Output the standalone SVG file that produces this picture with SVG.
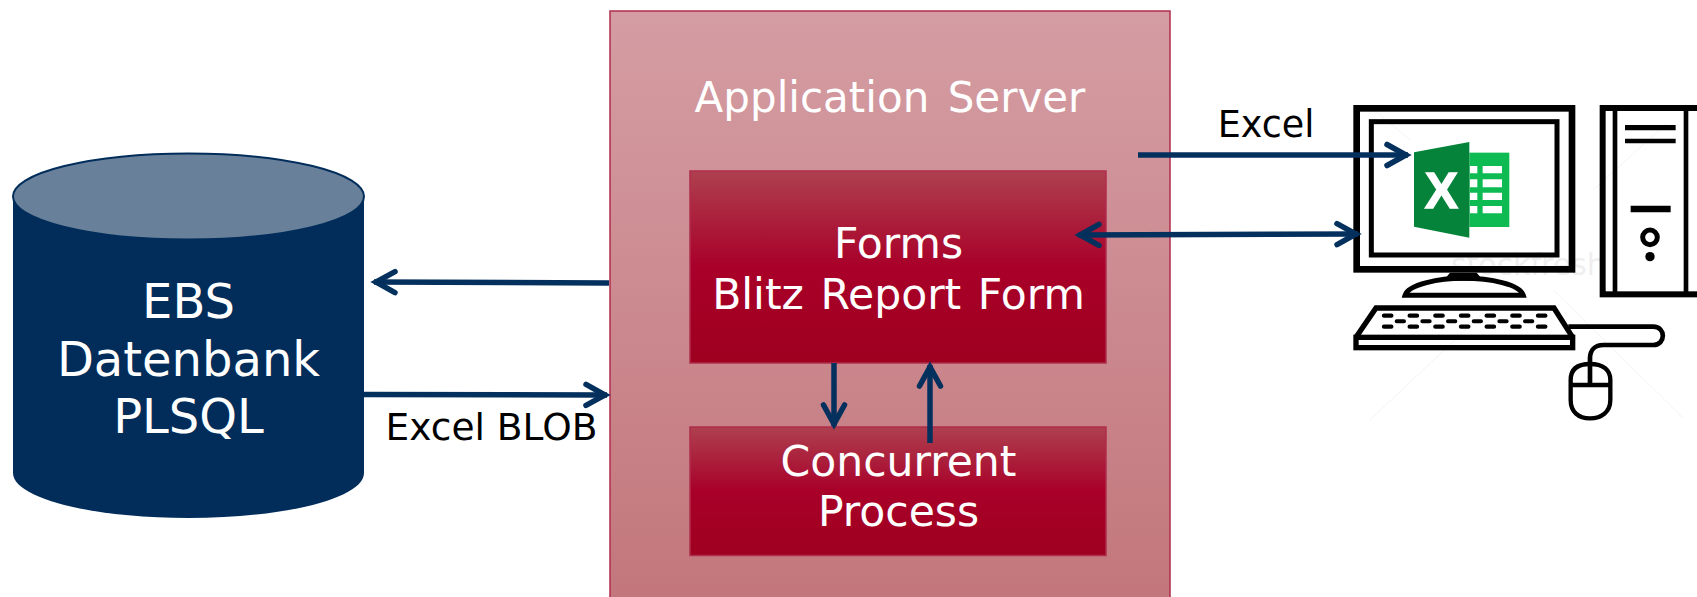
<svg xmlns="http://www.w3.org/2000/svg" width="1697" height="597" viewBox="0 0 1697 597">
<style>
.t{font-family:"DejaVu Sans",Verdana,sans-serif;text-anchor:middle;fill:#fff}
.k{fill:#000}
.c{fill:none;stroke:#04305e;stroke-width:5.500}
.b{stroke:#b02c4c;stroke-width:1.5}
.ink{fill:none;stroke:#000}
.w{fill:#fff}
</style>
<defs>
<linearGradient id="srv" x1="0" y1="0" x2="0" y2="1"><stop offset="0" stop-color="#d49da3"/><stop offset="1" stop-color="#c2767b"/></linearGradient>
<linearGradient id="red" x1="0" y1="0" x2="0" y2="1"><stop offset="0" stop-color="#ae404f"/><stop offset=".5" stop-color="#a90029"/><stop offset="1" stop-color="#9e001f"/></linearGradient>
<marker id="a" markerUnits="userSpaceOnUse" markerWidth="32" markerHeight="34" viewBox="-26 -17 32 34" refX="0" refY="0" orient="auto-start-reverse"><path d="M-21 -10.5 L-2 0 L-21 10.5" fill="none" stroke="#04305e" stroke-width="5.500" stroke-linecap="round"/></marker>
</defs>
<g id="application-server">
<rect x="610" y="11" width="560" height="600" fill="url(#srv)" class="b"/>
<text class="t" x="890" y="112" font-size="42" word-spacing="5">Application Server</text>
</g>
<g id="forms">
<rect x="690" y="171" width="416" height="192" fill="url(#red)" class="b"/>
<text class="t" x="898.500" y="258" font-size="42.500">Forms</text>
<text class="t" x="898.500" y="308.500" font-size="42.500" word-spacing="3">Blitz Report Form</text>
</g>
<g id="concurrent-process">
<rect x="690" y="427" width="416" height="128.500" fill="url(#red)" class="b"/>
<text class="t" x="898.500" y="476" font-size="42.500">Concurrent</text>
<text class="t" x="898.500" y="526" font-size="42.500">Process</text>
</g>
<g id="database">
<path d="M13 197 V473 C13 498 91 518 188.500 518 S364 498 364 473 V197 Z" fill="#022d5b"/>
<ellipse cx="188.500" cy="196.500" rx="175.500" ry="43" fill="#688099" stroke="#022d5b" stroke-width="2"/>
<text class="t" x="188.500" y="318" font-size="48">EBS</text>
<text class="t" x="188.500" y="376" font-size="48">Datenbank</text>
<text class="t" x="188.500" y="433" font-size="48">PLSQL</text>
</g>
<g id="computer">
<g transform="translate(1300 80) scale(.33333)">
<g id="watermark" fill="none" stroke="#f3f3f3" stroke-width="3">
<path d="M210 1020 L560 690 M760 630 L1150 1015 M210 80 L330 180 M880 330 L1100 130"/>
</g>
<text x="685" y="585" font-family="'DejaVu Sans',sans-serif" font-size="90" text-anchor="middle" fill="#efefef">stockfresh</text>
<rect class="ink" x="170" y="85" width="646" height="483" stroke-width="20"/>
<rect class="ink" x="214" y="125" width="557" height="400" stroke-width="15"/>
<path d="M450 578 H530 L550 602 H430 Z" fill="#000"/>
<path class="ink" d="M315 646 C325 612 420 595 490 595 C570 595 660 612 670 646 Z" stroke-width="15"/>
<rect class="ink" x="168" y="772" width="650" height="31" stroke-width="16"/>
<path class="ink" d="M168 772 L228 684 H762 L818 772" stroke-width="16"/>
<path class="ink" stroke-width="13" stroke-linecap="round" stroke-dasharray="22 55" d="M252 707 H740 M252 740 H740"/>
<path class="ink" stroke-width="12" stroke-linecap="round" stroke-dasharray="22 55" d="M290 724 H700"/>
<path class="ink" d="M805 740 H1060 C1098 740 1098 795 1060 795 H910 C885 795 870 810 870 835 V912" stroke-width="14"/>
<path class="ink" d="M870 852 C830 852 812 870 812 900 V960 C812 995 835 1015 870 1015 C905 1015 931 995 931 960 V900 C931 870 910 852 870 852 Z M812 915 H931" stroke-width="13"/>
<g>
<rect class="ink" x="908" y="84" width="300" height="559" stroke-width="18"/>
<path class="ink" d="M945 90 V640 M1158 90 V640" stroke-width="14"/>
<path class="ink" d="M975 143 H1127" stroke-width="16"/>
<path class="ink" d="M975 183 H1127" stroke-width="14"/>
<path class="ink" d="M992 387 H1112" stroke-width="20"/>
<circle class="ink" cx="1050" cy="472" r="22" stroke-width="15"/>
<circle cx="1050" cy="530" r="14"/>
</g>
<g id="excel-icon">
<rect x="508" y="218" width="120" height="223" fill="#0ebb52"/>
<path d="M342 217 L508 186 V473 L342 440 Z" fill="#05833a"/>
<path class="w" d="M510 258h22v22h-22z M548 258h58v22h-58z M510 298h22v24h-22z M548 298h58v24h-58z M510 338h22v22h-22z M548 338h58v22h-58z M510 378h22v22h-22z M548 378h58v22h-58z"/>
<text x="424" y="384" font-family="'Liberation Sans',sans-serif" font-weight="700" font-size="150" text-anchor="middle" fill="#fff" stroke="#fff" stroke-width="4">X</text>
</g>
</g>
</g>
<g id="connectors">
<path class="c" d="M609 283 L374 282" marker-end="url(#a)"/>
<path class="c" d="M364 394.500 L607 395" marker-end="url(#a)"/>
<path class="c" d="M1138 155 H1408" marker-end="url(#a)"/>
<path class="c" d="M1078 235 L1358 234" marker-start="url(#a)" marker-end="url(#a)"/>
<path class="c" d="M834 363 V426" marker-end="url(#a)"/>
<path class="c" d="M930 443 V365" marker-end="url(#a)"/>
</g>
<g id="labels">
<text class="t k" x="491.500" y="440" font-size="37.500">Excel BLOB</text>
<text class="t k" x="1266" y="137" font-size="36.500">Excel</text>
</g>
</svg>
